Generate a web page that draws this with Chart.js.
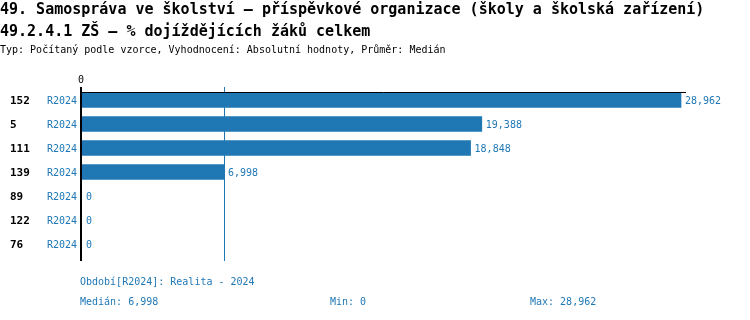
<!DOCTYPE html>
<html>
<head>
<meta charset="utf-8">
<script src="https://cdn.jsdelivr.net/npm/chart.js@4/dist/chart.umd.min.js"></script>
<style>
  html, body { margin: 0; padding: 0; background: #fff; }
  #wrap { position: relative; width: 750px; height: 320px; overflow: hidden; }
  #c { position: absolute; left: 0; top: 0; }
  .t { position: absolute; white-space: pre; font-family: "DejaVu Sans Mono", monospace; color: #000; line-height: 1; }
  .f { position: absolute; white-space: pre; font-family: "DejaVu Sans Mono", monospace; color: #1f77b4; font-size: 10px; line-height: 1; }
</style>
</head>
<body>
<div id="wrap">
  <canvas id="c" width="750" height="320"></canvas>
  <div class="t" style="left:0px;top:2px;font-size:15px;font-weight:bold;">49. Samospráva ve školství – příspěvkové organizace (školy a školská zařízení)</div>
  <div class="t" style="left:0px;top:24px;font-size:15px;font-weight:bold;">49.2.4.1 ZŠ – % dojíždějících žáků celkem</div>
  <div class="t" style="left:0px;top:45px;font-size:10px;">Typ: Počítaný podle vzorce, Vyhodnocení: Absolutní hodnoty, Průměr: Medián</div>
  <div class="f" id="period" style="left:80px;top:277px;"></div>
  <div class="f" id="fmed" style="left:80px;top:297px;"></div>
  <div class="f" id="fmin" style="left:330px;top:297px;"></div>
  <div class="f" id="fmax" style="left:530px;top:297px;"></div>
</div>
<script>
// ---- data ----
const categories = ["152", "5", "111", "139", "89", "122", "76"];
const periods = ["R2024", "R2024", "R2024", "R2024", "R2024", "R2024", "R2024"];
const values = [28962, 19388, 18848, 6998, 0, 0, 0];
const medianValue = 6998;
const minValue = 0;
const maxValue = 28962;
const periodLabel = "Období[R2024]: Realita - 2024";

const BLUE = "#1f77b4";
const fmt = v => v.toLocaleString("en-US");

document.getElementById("period").textContent = periodLabel;
document.getElementById("fmed").textContent = "Medián: " + fmt(medianValue);
document.getElementById("fmin").textContent = "Min: " + fmt(minValue);
document.getElementById("fmax").textContent = "Max: " + fmt(maxValue);

const overlay = {
  id: "overlay",
  afterDatasetsDraw(chart) {
    const ctx = chart.ctx;
    const xs = chart.scales.x, ys = chart.scales.y;
    const area = chart.chartArea;
    const x0 = area.left;
    ctx.save();
    // median line
    const mx = Math.round(xs.getPixelForValue(medianValue)) + 0.5;
    ctx.strokeStyle = BLUE; ctx.lineWidth = 1;
    ctx.beginPath(); ctx.moveTo(mx, area.top - 1); ctx.lineTo(mx, area.bottom + 5); ctx.stroke();
    // top line
    ctx.strokeStyle = "#000"; ctx.lineWidth = 1;
    ctx.beginPath(); ctx.moveTo(x0 - 1, area.top + 4.5); ctx.lineTo(area.right, area.top + 4.5); ctx.stroke();
    // zero axis
    ctx.lineWidth = 2;
    ctx.beginPath(); ctx.moveTo(x0 - 1, area.top - 1); ctx.lineTo(x0 - 1, area.bottom + 5); ctx.stroke();
    // zero label
    ctx.fillStyle = "#000"; ctx.font = "10px 'DejaVu Sans Mono'";
    ctx.textAlign = "center"; ctx.textBaseline = "middle";
    ctx.fillText("0", x0 - 1, area.top - 8);
    // row labels
    ctx.textBaseline = "middle";
    categories.forEach((c, i) => {
      const y = ys.getPixelForValue(i) + 1;
      ctx.textAlign = "left";
      ctx.fillStyle = "#000"; ctx.font = "bold 11px 'DejaVu Sans Mono'";
      ctx.fillText(c, 10, y);
      ctx.fillStyle = BLUE; ctx.font = "10px 'DejaVu Sans Mono'";
      ctx.fillText(periods[i], 47, y);
      const bx = Math.max(xs.getPixelForValue(values[i]), x0);
      ctx.fillText(fmt(values[i]), bx + 4, y);
    });
    ctx.restore();
  }
};

new Chart(document.getElementById("c"), {
  type: "bar",
  data: {
    labels: categories,
    datasets: [{ data: values, backgroundColor: BLUE, borderWidth: 0, barThickness: 15 }]
  },
  options: {
    indexAxis: "y",
    responsive: false,
    animation: false,
    events: [],
    layout: { padding: { left: 82, right: 64, top: 88, bottom: 64 } },
    plugins: { legend: { display: false }, tooltip: { enabled: false }, title: { display: false } },
    scales: {
      x: { display: false, min: 173, max: 29202 },
      y: { display: false }
    }
  },
  plugins: [overlay]
});
</script>
</body>
</html>
